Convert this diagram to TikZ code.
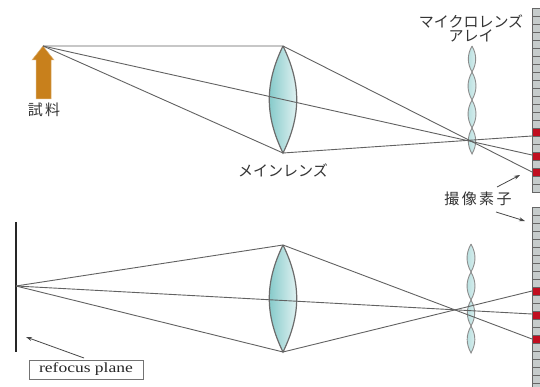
\documentclass[tikz,border=0pt]{standalone}
\usepackage{fontspec}
\usepackage{tikz}
\usetikzlibrary{arrows.meta, positioning}
\setmainfont{Liberation Serif}
\newfontfamily\cjk{Noto Sans CJK JP}
\newfontfamily\cjkwide[LetterSpace=16]{Noto Sans CJK JP}
\newfontfamily\refocusfont[FakeStretch=1.25]{Liberation Serif}
\definecolor{lensteal}{HTML}{78C4C4}
\definecolor{lensmicro}{HTML}{B4DEDE}
\definecolor{samplearrow}{HTML}{C8801C}
\definecolor{cellgray}{HTML}{C6CCCC}
\definecolor{hitred}{HTML}{C00F20}

\begin{document}
\begin{tikzpicture}[
  x=1pt, y=-1pt, >={Stealth[length=6pt,width=4pt]},
  every node/.style={text=black!80, inner sep=0pt},
  ray/.style={draw=black!62, line width=0.9pt},
  pointer/.style={->, draw=black!72, line width=0.8pt},
  mainlens/.style={draw=black!58, line width=1.2pt, left color=lensteal, right color=lensteal!12!white},
  microlens/.style={draw=black!45, line width=0.9pt, left color=lensmicro, right color=lensmicro!45!white},
  cell/.style={draw=black!60, line width=0.9pt, fill=cellgray},
  hitcell/.style={draw=black!60, line width=0.9pt, fill=hitred},
  jp/.style={font=\fontsize{15}{17}\selectfont\cjk},
  jpwide/.style={font=\fontsize{15}{17}\selectfont\cjkwide}
]
  \useasboundingbox (0,0) rectangle (540,387);

  % upper figure
  \coordinate (tip) at (43,46);
  \coordinate (ltop) at (283,46);
  \coordinate (lbot) at (283,153);
  \coordinate (sa) at (532,136);
  \coordinate (sb) at (532,155);
  \coordinate (sc) at (532,172);

  \draw[draw=samplearrow!60!white, line width=0.5pt, fill=samplearrow]
    (tip) -- (54,60) -- (51,60) -- (51,99) -- (36,99) -- (36,60) -- (32,60) -- cycle;

  \draw[mainlens] (ltop) to[bend left=26] (lbot) to[bend left=26] (ltop);
  \foreach \ya/\yb in {46/72, 72/100, 100/128, 128/154}
    \draw[microlens] (472,\ya) to[bend left=29] (472,\yb) to[bend left=29] (472,\ya);

  \foreach \k in {0,...,22}
    \draw[cell] (532,8+8*\k) rectangle (540,16+8*\k);
  \foreach \k in {15,18,20}
    \draw[hitcell] (532,8+8*\k) rectangle (540,16+8*\k);

  \draw[ray] (tip) -- (ltop) -- (sc);
  \draw[ray] (tip) -- (sb);
  \draw[ray] (tip) -- (lbot) -- (sa);

  \node[jpwide] (sample) at (44,110) {試料};
  \node[jp] (mainlabel) at (283,170) {メインレンズ};
  \node[jp] (mla) at (471,21) {マイクロレンズ};
  \node[jp, below=1.5pt of mla] (mlb) {アレイ};
  \node[jpwide] (sensor) at (478,199) {撮像素子};
  \coordinate (pa) at (497,187);
  \coordinate (pb) at (520,175);
  \draw[pointer] (pa) -- (pb);
  \coordinate (pc) at (496,212);
  \coordinate (pd) at (525,221);
  \draw[pointer] (pc) -- (pd);

  % lower figure
  \coordinate (src) at (16,286);
  \coordinate (ptop) at (16,222);
  \coordinate (pbot) at (16,352);
  \coordinate (mtop) at (283,245);
  \coordinate (mbot) at (283,352);
  \coordinate (ta) at (532,291);
  \coordinate (tb) at (532,314);
  \coordinate (tc) at (532,339);

  \draw[black!85, line width=1.5pt] (ptop) -- (pbot);

  \draw[mainlens] (mtop) to[bend left=26] (mbot) to[bend left=26] (mtop);
  \foreach \ya/\yb in {244/272, 272/300, 300/326, 326/353}
    \draw[microlens] (471,\ya) to[bend left=29] (471,\yb) to[bend left=29] (471,\ya);

  \foreach \k in {0,...,21}
    \draw[cell] (532,207+8*\k) rectangle (540,215+8*\k);
  \draw[cell] (532,383) rectangle (540,387);
  \foreach \k in {10,13,16}
    \draw[hitcell] (532,207+8*\k) rectangle (540,215+8*\k);

  \draw[ray] (src) -- (mtop) -- (tc);
  \draw[ray] (src) -- (tb);
  \draw[ray] (src) -- (mbot) -- (ta);

  \node[draw=black!55, line width=0.7pt, minimum width=114pt, minimum height=19pt,
    font=\fontsize{14}{16}\selectfont\refocusfont, text=black!85] (refocus) at (86,369.5) {refocus plane};
  \coordinate (pe) at (84,358);
  \coordinate (pf) at (26,337);
  \draw[pointer] (pe) -- (pf);
\end{tikzpicture}
\end{document}
